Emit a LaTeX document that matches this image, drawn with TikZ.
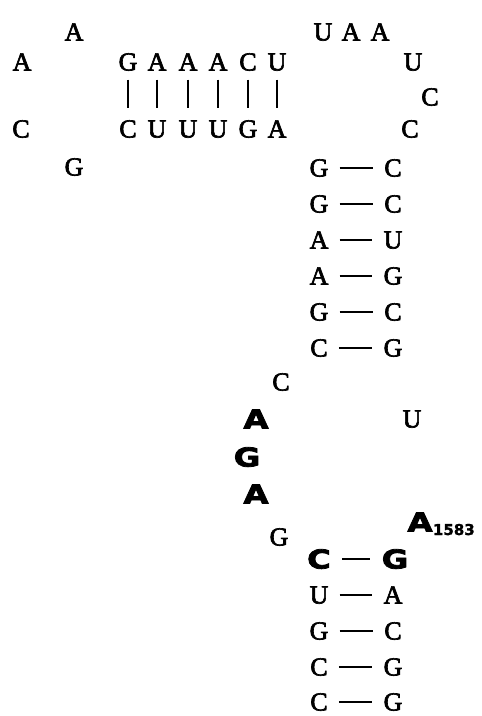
\documentclass[tikz,border=0pt]{standalone}
\usepackage{fontspec}
\setmainfont{Liberation Serif}
\newfontfamily\basefont{Liberation Serif}[FakeBold=2.5]
\newfontfamily\heavyfont{DejaVu Sans Bold}[FakeStretch=1.25, FakeBold=3]
\newfontfamily\numfont{DejaVu Sans Bold}[FakeBold=1.5]
\usetikzlibrary{positioning}

\begin{document}
\begin{tikzpicture}[
        x=1pt, y=-1pt,
        nt/.style={inner sep=0pt, text height=17pt, text depth=0pt, font=\fontsize{26}{30}\basefont},
        ntb/.style={inner sep=0pt, text height=19pt, text depth=0pt, font=\fontsize{26}{30}\heavyfont},
        sub/.style={inner sep=0pt, font=\fontsize{15}{18}\numfont},
        bond/.style={line width=1.6pt, shorten <=11pt, shorten >=11pt},
        bar/.style={line width=1.8pt, shorten <=9pt, shorten >=12pt}
    ]
        \useasboundingbox (0,0) rectangle (482,716);

        % loop at the top left
        \node[nt] (la1) at (74,32) {A};
        \node[nt] (la2) at (22,62) {A};
        \node[nt] (lc1) at (21,129) {C};
        \node[nt] (lg1) at (74,167) {G};

        % loop at the top right
        \foreach \x/\b [count=\i] in {323/U,351/A,380/A}
            \node[nt] (t\i) at (\x,32) {\b};
        \node[nt] (ru1) at (413,62) {U};
        \node[nt] (rc1) at (430,97) {C};
        \node[nt] (rc2) at (410,129) {C};

        % short helix
        \foreach \x/\u/\l [count=\i] in {128/G/C,157/A/U,188/A/U,218/A/U,248/C/G,277/U/A} {
            \node[nt] (hu\i) at (\x,62) {\u};
            \node[nt] (hd\i) at (\x,129) {\l};
            \draw[bar] (hu\i) -- (hd\i);
        }

        % upper stem
        \foreach \y/\l/\r [count=\i] in {168/G/C,204/G/C,240/A/U,276/A/G,312/G/C,348/C/G} {
            \node[nt] (sl\i) at (319,\y) {\l};
            \node[nt] (sr\i) at (393,\y) {\r};
            \draw[bond] (sl\i) -- (sr\i);
        }

        % internal loop
        \node[nt] (ic1) at (281,382) {C};
        \node[ntb] (ia1) at (256,419) {A};
        \node[nt] (iu1) at (412,419) {U};
        \node[ntb] (ig1) at (247,457) {G};
        \node[ntb] (ia2) at (256,494) {A};
        \node[nt] (ig2) at (279,537) {G};
        \node[ntb] (a1583) at (420,522) {A};
        \node[sub, base right=0pt of a1583, yshift=-3.5pt] (n1583) {1583};

        % lower stem
        \node[ntb] (bl1) at (319,559) {C};
        \node[ntb] (br1) at (395,559) {G};
        \draw[bond] (bl1) -- (br1);
        \foreach \y/\l/\r [count=\i from 2] in {595/U/A,631/G/C,667/C/G,702/C/G} {
            \node[nt] (bl\i) at (319,\y) {\l};
            \node[nt] (br\i) at (393,\y) {\r};
            \draw[bond] (bl\i) -- (br\i);
        }
    \end{tikzpicture}
\end{document}
